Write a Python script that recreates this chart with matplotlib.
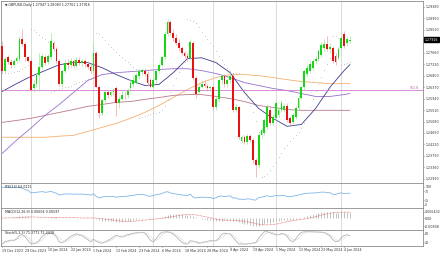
import numpy as np
import pandas as pd
import matplotlib
matplotlib.use('Agg')
import matplotlib.pyplot as plt
from matplotlib.transforms import blended_transform_factory

# GBPUSD daily bars, 19 Dec 2023 .. 6 Jun 2024
opens = [1.2792, 1.2699, 1.2751, 1.2733, 1.2721, 1.2736, 1.2744, 1.2818, 1.2800, 1.2751,
         1.2736, 1.2632, 1.2647, 1.2684, 1.2714, 1.2751, 1.2733, 1.2751, 1.2803, 1.2781,
         1.2736, 1.2650, 1.2699, 1.2729, 1.2721, 1.2736, 1.2718, 1.2740, 1.2729, 1.2736,
         1.2725, 1.2714, 1.2699, 1.2766, 1.2636, 1.2539, 1.2587, 1.2617, 1.2609, 1.2617,
         1.2632, 1.2576, 1.2594, 1.2609, 1.2606, 1.2632, 1.2647, 1.2654, 1.2677, 1.2695,
         1.2699, 1.2688, 1.2662, 1.2639, 1.2662, 1.2699, 1.2721, 1.2751, 1.2837, 1.2882,
         1.2841, 1.2822, 1.2803, 1.2785, 1.2766, 1.2755, 1.2747, 1.2803, 1.2673, 1.2617,
         1.2639, 1.2650, 1.2643, 1.2632, 1.2636, 1.2561, 1.2591, 1.2662, 1.2677, 1.2647,
         1.2662, 1.2680, 1.2550, 1.2561, 1.2434, 1.2449, 1.2430, 1.2453, 1.2438, 1.2363,
         1.2345, 1.2456, 1.2464, 1.2486, 1.2550, 1.2501, 1.2520, 1.2531, 1.2550, 1.2550,
         1.2568, 1.2520, 1.2505, 1.2524, 1.2557, 1.2598, 1.2636, 1.2688, 1.2699, 1.2710,
         1.2736, 1.2744, 1.2759, 1.2785, 1.2800, 1.2781, 1.2785, 1.2755, 1.2747, 1.2785,
         1.2837, 1.2803, 1.2811]
highs = [1.2811, 1.2751, 1.2759, 1.2744, 1.2744, 1.2755, 1.2829, 1.2856, 1.2807, 1.2755,
         1.2744, 1.2662, 1.2691, 1.2766, 1.2766, 1.2759, 1.2762, 1.2841, 1.2811, 1.2788,
         1.2744, 1.2706, 1.2744, 1.2744, 1.2747, 1.2744, 1.2751, 1.2751, 1.2744, 1.2744,
         1.2736, 1.2725, 1.2803, 1.2774, 1.2643, 1.2594, 1.2624, 1.2628, 1.2624, 1.2632,
         1.2643, 1.2602, 1.2621, 1.2617, 1.2632, 1.2669, 1.2677, 1.2691, 1.2710, 1.2710,
         1.2710, 1.2699, 1.2673, 1.2673, 1.2706, 1.2729, 1.2759, 1.2848, 1.2893, 1.2889,
         1.2856, 1.2837, 1.2818, 1.2792, 1.2774, 1.2766, 1.2818, 1.2811, 1.2680, 1.2647,
         1.2662, 1.2662, 1.2650, 1.2643, 1.2643, 1.2602, 1.2669, 1.2688, 1.2688, 1.2669,
         1.2691, 1.2691, 1.2572, 1.2568, 1.2456, 1.2456, 1.2460, 1.2460, 1.2445, 1.2371,
         1.2464, 1.2483, 1.2520, 1.2572, 1.2565, 1.2535, 1.2587, 1.2561, 1.2587, 1.2576,
         1.2576, 1.2527, 1.2539, 1.2565, 1.2606, 1.2643, 1.2706, 1.2721, 1.2736, 1.2744,
         1.2755, 1.2781, 1.2807, 1.2818, 1.2829, 1.2803, 1.2792, 1.2766, 1.2788, 1.2829,
         1.2848, 1.2826, 1.2829]
lows = [1.2691, 1.2691, 1.2725, 1.2710, 1.2714, 1.2729, 1.2736, 1.2792, 1.2736, 1.2733,
        1.2621, 1.2617, 1.2639, 1.2624, 1.2706, 1.2721, 1.2725, 1.2744, 1.2774, 1.2729,
        1.2643, 1.2639, 1.2691, 1.2706, 1.2714, 1.2710, 1.2714, 1.2721, 1.2718, 1.2714,
        1.2706, 1.2691, 1.2691, 1.2632, 1.2520, 1.2531, 1.2580, 1.2598, 1.2602, 1.2606,
        1.2527, 1.2557, 1.2587, 1.2594, 1.2598, 1.2624, 1.2636, 1.2647, 1.2669, 1.2684,
        1.2677, 1.2643, 1.2632, 1.2632, 1.2654, 1.2691, 1.2714, 1.2744, 1.2829, 1.2833,
        1.2811, 1.2796, 1.2774, 1.2759, 1.2747, 1.2736, 1.2740, 1.2665, 1.2598, 1.2606,
        1.2632, 1.2636, 1.2624, 1.2624, 1.2550, 1.2553, 1.2583, 1.2650, 1.2639, 1.2639,
        1.2654, 1.2542, 1.2542, 1.2442, 1.2427, 1.2423, 1.2423, 1.2430, 1.2352, 1.2300,
        1.2333, 1.2445, 1.2456, 1.2479, 1.2494, 1.2490, 1.2512, 1.2524, 1.2542, 1.2542,
        1.2505, 1.2490, 1.2497, 1.2516, 1.2550, 1.2591, 1.2628, 1.2680, 1.2691, 1.2703,
        1.2725, 1.2736, 1.2751, 1.2774, 1.2774, 1.2766, 1.2729, 1.2721, 1.2740, 1.2777,
        1.2785, 1.2792, 1.2803]
closes = [1.2699, 1.2744, 1.2733, 1.2721, 1.2736, 1.2747, 1.2818, 1.2800, 1.2751, 1.2736,
          1.2628, 1.2647, 1.2684, 1.2714, 1.2755, 1.2729, 1.2755, 1.2811, 1.2781, 1.2736,
          1.2650, 1.2699, 1.2729, 1.2721, 1.2736, 1.2718, 1.2740, 1.2729, 1.2736, 1.2725,
          1.2714, 1.2699, 1.2766, 1.2636, 1.2539, 1.2587, 1.2617, 1.2609, 1.2617, 1.2624,
          1.2576, 1.2594, 1.2609, 1.2606, 1.2624, 1.2654, 1.2662, 1.2684, 1.2699, 1.2703,
          1.2688, 1.2654, 1.2639, 1.2662, 1.2699, 1.2721, 1.2751, 1.2837, 1.2882, 1.2841,
          1.2822, 1.2803, 1.2785, 1.2766, 1.2755, 1.2747, 1.2807, 1.2673, 1.2613, 1.2639,
          1.2650, 1.2643, 1.2632, 1.2636, 1.2561, 1.2591, 1.2662, 1.2677, 1.2647, 1.2662,
          1.2680, 1.2550, 1.2561, 1.2449, 1.2449, 1.2430, 1.2453, 1.2438, 1.2363, 1.2345,
          1.2456, 1.2475, 1.2512, 1.2561, 1.2501, 1.2524, 1.2576, 1.2550, 1.2576, 1.2568,
          1.2512, 1.2501, 1.2531, 1.2557, 1.2598, 1.2636, 1.2699, 1.2710, 1.2725, 1.2736,
          1.2744, 1.2774, 1.2796, 1.2800, 1.2781, 1.2788, 1.2736, 1.2733, 1.2781, 1.2822,
          1.2792, 1.2818, 1.2815]

# moving averages read every 5 bars
ma_idx = [0, 5, 10, 15, 20, 25, 30, 35, 40, 45, 50, 55, 60, 65, 70, 75, 80, 85, 90, 95,
          100, 105, 110, 115, 120, 122]
ma_navy = [1.2621, 1.2650, 1.2677, 1.2699, 1.2721, 1.2729, 1.2729, 1.2710, 1.2684, 1.2662,
           1.2643, 1.2647, 1.2691, 1.2744, 1.2747, 1.2729, 1.2691, 1.2617, 1.2557, 1.2520,
           1.2490, 1.2497, 1.2557, 1.2636, 1.2699, 1.2721]
ma_purple = [1.2389, 1.2438, 1.2483, 1.2531, 1.2572, 1.2617, 1.2662, 1.2684, 1.2691, 1.2695,
             1.2699, 1.2703, 1.2706, 1.2706, 1.2699, 1.2688, 1.2673, 1.2654, 1.2643, 1.2632,
             1.2624, 1.2613, 1.2602, 1.2602, 1.2609, 1.2613]
ma_orange = [1.2449, 1.2449, 1.2449, 1.2449, 1.2453, 1.2456, 1.2471, 1.2486, 1.2501, 1.2520,
             1.2542, 1.2568, 1.2598, 1.2628, 1.2654, 1.2673, 1.2684, 1.2684, 1.2680, 1.2673,
             1.2665, 1.2658, 1.2654, 1.2650, 1.2650, 1.2650]
ma_rosy = [1.2505, 1.2512, 1.2520, 1.2531, 1.2542, 1.2553, 1.2565, 1.2572, 1.2580, 1.2583,
           1.2591, 1.2598, 1.2606, 1.2609, 1.2609, 1.2602, 1.2594, 1.2583, 1.2568, 1.2561,
           1.2553, 1.2550, 1.2550, 1.2550, 1.2550, 1.2550]
fibo_level = 1.2628

date_labels = ['19 Dec 2023', '29 Dec 2023', '10 Jan 2024', '22 Jan 2024', '1 Feb 2024',
               '13 Feb 2024', '23 Feb 2024', '6 Mar 2024', '18 Mar 2024', '28 Mar 2024',
               '9 Apr 2024', '19 Apr 2024', '1 May 2024', '13 May 2024', '23 May 2024',
               '4 Jun 2024']
month_starts = [10, 32, 53, 74, 96, 119]
price_ticks = [1.2938 - 0.0043 * k for k in range(16)]

header = '\u25bc GBPUSD,Daily 1.27947 1.28083 1.27761 1.27916'
last_txt = '1.27916'
rsi_txt = 'RSI(14) 64.0221'
macd_txt = 'MACD(12,26,9) 0.00604 0.00597'
stoch_txt = 'Stoch(5,3,3) 71.3771 75.3438'

o = np.array(opens); h = np.array(highs); l = np.array(lows); c = np.array(closes)
n = len(c)
x = np.arange(n)
cs = pd.Series(c)

# indicators from the bars
d = cs.diff()
up = d.clip(lower=0).ewm(alpha=1/14, adjust=False).mean()
dn = (-d.clip(upper=0)).ewm(alpha=1/14, adjust=False).mean()
rsi = 100 - 100 / (1 + up / dn.replace(0, np.nan))
rsi = rsi.bfill()

macd = cs.ewm(span=12, adjust=False).mean() - cs.ewm(span=26, adjust=False).mean()
signal = macd.rolling(9, min_periods=1).mean()

hh = pd.Series(h).rolling(5, min_periods=1).max()
ll = pd.Series(l).rolling(5, min_periods=1).min()
k = 100 * (cs - ll).rolling(3, min_periods=1).sum() / (hh - ll).rolling(3, min_periods=1).sum()
dline = k.rolling(3, min_periods=1).mean()

# parabolic SAR
sar = np.zeros(n)
bull = c[1] > c[0]
af = 0.02
ep = h[0] if bull else l[0]
sar[0] = l[0] if bull else h[0]
for i in range(1, n):
    s = sar[i-1] + af * (ep - sar[i-1])
    if bull:
        s = min(s, l[i-1], l[max(i-2, 0)])
        if l[i] < s:
            bull = False; s = ep; ep = l[i]; af = 0.02
        elif h[i] > ep:
            ep = h[i]; af = min(af + 0.02, 0.2)
    else:
        s = max(s, h[i-1], h[max(i-2, 0)])
        if h[i] > s:
            bull = True; s = ep; ep = h[i]; af = 0.02
        elif l[i] < ep:
            ep = l[i]; af = min(af + 0.02, 0.2)
    sar[i] = s

W, H = 440, 254
fig = plt.figure(figsize=(W/100, H/100), dpi=100)
fig.patch.set_facecolor('white')

def rect(top, bottom):
    return [0.003, 1 - bottom/H, 423/W - 0.003, (bottom - top)/H]

ax = fig.add_axes(rect(1, 183))
ax_rsi = fig.add_axes(rect(183, 208), sharex=ax)
ax_macd = fig.add_axes(rect(208, 230), sharex=ax)
ax_st = fig.add_axes(rect(230, 246), sharex=ax)

fs = 2.3
grey = '#8c8c8c'
for a in [ax, ax_rsi, ax_macd, ax_st]:
    for sp in a.spines.values():
        sp.set_color(grey)
        sp.set_linewidth(0.6)
    a.yaxis.tick_right()
    a.tick_params(axis='y', labelsize=fs, length=1.0, width=0.4, pad=0.6, colors='#333333')
    a.tick_params(axis='x', length=0, labelbottom=False)
    for m in month_starts:
        a.axvline(m, color='#d6d6d6', lw=0.6, zorder=0)

# candles
up_bar = c >= o
body_col = np.where(up_bar, '#13d813', '#e81010')
wick_col = np.where(up_bar, '#9ae69a', '#f0a0a0')
ax.vlines(x, l, h, colors=wick_col, lw=0.5, zorder=2)
body = np.abs(c - o)
body = np.where(body < 0.00012, 0.00012, body)
ax.bar(x, body, bottom=np.minimum(o, c), width=0.62, color=body_col, lw=0, zorder=3)

ax.plot(ma_idx, ma_orange, color='#f4b070', lw=0.6, zorder=1)
ax.plot(ma_idx, ma_rosy, color='#b97a8a', lw=0.6, zorder=1)
ax.plot(ma_idx, ma_purple, color='#9a6fd0', lw=0.6, zorder=1)
ax.plot(ma_idx, ma_navy, color='#3d3d8f', lw=0.6, zorder=1)
ax.axhline(fibo_level, color='#d27ad2', lw=0.6, zorder=1)
ax.plot(x, sar, ls='none', marker='.', ms=0.9, mew=0, color='#9c9c9c', zorder=1)

ax.set_xlim(-0.35, 147.7)
ax.set_ylim(1.22774, 1.2960)
ax.set_yticks(price_ticks)
# the close box sits over the nearest price label
ax.set_yticklabels(['' if abs(t - c[-1]) < 0.0022 else '%.5f' % t for t in price_ticks])
tr = blended_transform_factory(ax.transAxes, ax.transData)
ax.text(1.004, c[-1], last_txt, transform=tr, fontsize=fs, color='white', va='center',
        ha='left', bbox=dict(boxstyle='square,pad=0.12', fc='black', ec='black'), zorder=5)
ax.text(0.99, fibo_level, '161.8', transform=tr, fontsize=fs, color='#b060b0',
        va='bottom', ha='right')
ax.text(0.008, 0.988, header, transform=ax.transAxes, fontsize=fs, va='top', ha='left',
        color='#222222')

# RSI
ax_rsi.plot(x, rsi, color='#7fb6e8', lw=0.6)
ax_rsi.set_ylim(-17, 122)
ax_rsi.set_yticks([100, 75, 25, 0])
ax_rsi.set_yticklabels(['100', '75', '25', '0'])
ax_rsi.text(0.008, 0.93, rsi_txt, transform=ax_rsi.transAxes, fontsize=fs, va='top',
            color='#222222')

# MACD
ax_macd.vlines(x, 0, macd, colors='#b8b8b8', lw=0.6)
ax_macd.plot(x, signal, color='#e05050', lw=0.5, ls=(0, (1, 1)))
mlo, mhi = macd.min(), macd.max()
pad = (mhi - mlo) * 0.25
ax_macd.set_ylim(mlo - pad, mhi + pad)
ax_macd.set_yticks([mhi, 0, mlo])
ax_macd.set_yticklabels(['%.6f' % mhi, '0.00', '%.5f' % mlo])
ax_macd.text(0.008, 0.93, macd_txt, transform=ax_macd.transAxes, fontsize=fs, va='top',
             color='#222222')

# Stochastic
ax_st.plot(x, k, color='#b4b4b4', lw=0.6)
ax_st.plot(x, dline, color='#cfcfcf', lw=0.5, ls=(0, (2, 1)))
ax_st.set_ylim(-8, 108)
ax_st.set_yticks([80, 20])
ax_st.set_yticklabels(['80', '20'])
ax_st.text(0.008, 0.93, stoch_txt, transform=ax_st.transAxes, fontsize=fs, va='top',
           color='#222222')

label_bars = list(range(0, 121, 8))
ax_st.tick_params(axis='x', labelbottom=True, labelsize=fs, length=1, width=0.4, pad=0.8,
                  colors='#333333')
ax_st.set_xticks(label_bars)
ax_st.set_xticklabels(date_labels)
for t in ax_st.get_xticklabels():
    t.set_ha('left')

fig.savefig('out.png', dpi=100, facecolor='white')
